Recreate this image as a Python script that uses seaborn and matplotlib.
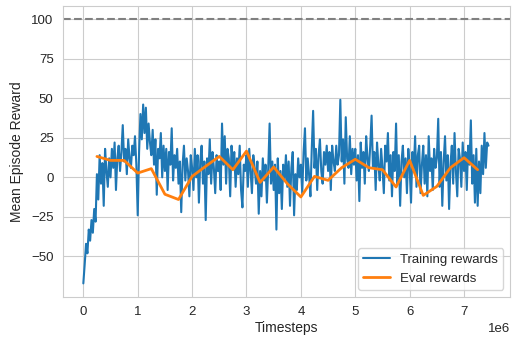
import matplotlib
matplotlib.use("Agg")
import matplotlib.pyplot as plt
import numpy as np
import pandas as pd
import seaborn as sns

# Training rewards, one value every 25k steps
train_step = 25000
train_rewards = [
    -67, -55, -42, -48, -33, -40, -27, -35, -20, -28,
    2, -14, 14, -4, 9, -18, 18, 4, -6, 12,
    0, 18, 6, 22, -8, 12, 20, 4, 16, 33,
    10, 18, 2, 24, 12, 6, 20, 14, 26, 8,
    -24, 16, 40, 24, 46, 28, 44, 18, 34, 22,
    14, 30, 8, 24, -11, 18, 12, 28, 0, 20,
    4, 18, -8, 16, 8, 31, -2, 14, 6, 18,
    -4, 10, -22, 8, 20, -2, 12, 4, -12, 14,
    6, -8, 18, 0, 14, -16, 10, 20, -4, 10,
    -27, 12, 2, 24, -4, 16, 6, -10, 14, 4,
    10, -8, 34, 8, 26, -4, 18, 12, -12, 20,
    6, 16, -6, 12, 2, 20, -8, -19, 8, 4,
    14, -6, 18, 4, -10, 14, 6, -4, 10, -23,
    4, -12, 12, -2, 8, -16, 6, 34, -4, 10,
    -8, 8, -33, 12, -10, 4, -20, 8, -2, 14,
    -6, 10, -18, 6, 16, -24, 2, -8, 12, 0,
    8, -10, 16, 31, -2, 12, 2, -12, 18, 42,
    6, 18, -8, 14, 24, 4, -4, 16, 8, 20,
    4, 16, -8, 20, 10, 4, 20, 8, 14, 49,
    10, 24, -4, 38, 12, 6, 26, 2, 18, 8,
    18, -2, 14, -15, 22, 6, 16, -4, 26, 12,
    4, 20, 39, 6, 16, -8, 22, 8, -2, 18,
    6, -10, 20, 10, 28, -2, 14, -12, 16, 4,
    34, -4, 14, -18, 10, 20, 0, 12, -10, 18,
    6, -16, 16, 4, 26, -6, 14, 20, -10, 8,
    20, -4, 14, -12, 26, 4, 12, -8, 18, 6,
    12, 37, -6, 16, -18, 10, 26, -2, 14, -20,
    8, 20, -4, 28, 4, -12, 18, 12, -6, 22,
    4, 16, -8, 20, 8, 36, -4, 14, -16, 18,
    -18, 10, -10, 20, 2, 28, 6, 22, 20,
]

# Evaluation rewards every 250k steps
eval_step = 250000
eval_rewards = [
    13.2, 10.7, 10.7, 2.7, 5.5, -10.7, -14, 0.6, 7, 13.2,
    4.8, 16.6, -3.2, 6.5, -4, -12.4, 0.6, -1.9, 6.1, 11.4,
    6.1, 4.8, -6.1, 10.7, -11.4, -5.7, 6.1, 12.4, 4.8,
]

target_reward = 100

df_train = pd.DataFrame({
    "timesteps": np.arange(len(train_rewards)) * train_step,
    "reward": train_rewards,
})
df_eval = pd.DataFrame({
    "timesteps": np.arange(1, len(eval_rewards) + 1) * eval_step,
    "reward": eval_rewards,
})

sns.set_style("whitegrid")
plt.rcParams["font.family"] = ["Liberation Sans", "DejaVu Sans"]
fig, ax = plt.subplots(figsize=(5.16, 3.37), dpi=100)
fig.subplots_adjust(left=0.1227, right=0.9884, bottom=0.1196, top=0.982)

sns.lineplot(data=df_train, x="timesteps", y="reward", ax=ax,
             label="Training rewards", linewidth=1.5, color="tab:blue")
sns.lineplot(data=df_eval, x="timesteps", y="reward", ax=ax,
             label="Eval rewards", linewidth=2, color="tab:orange")
ax.axhline(target_reward, color="gray", linestyle="--", linewidth=1.5)

ax.set_xlim(-0.368e6, 7.845e6)
ax.set_ylim(-75.4, 108.2)
ax.set_yticks([-50, -25, 0, 25, 50, 75, 100])
ax.tick_params(labelsize=9.5)
ax.xaxis.get_offset_text().set_fontsize(9.5)
ax.set_xlabel("Timesteps", fontsize=10, labelpad=2)
ax.set_ylabel("Mean Episode Reward", fontsize=10, labelpad=5)
ax.legend(loc="lower right", fontsize=9.5)

fig.savefig("out.png", dpi=100)
